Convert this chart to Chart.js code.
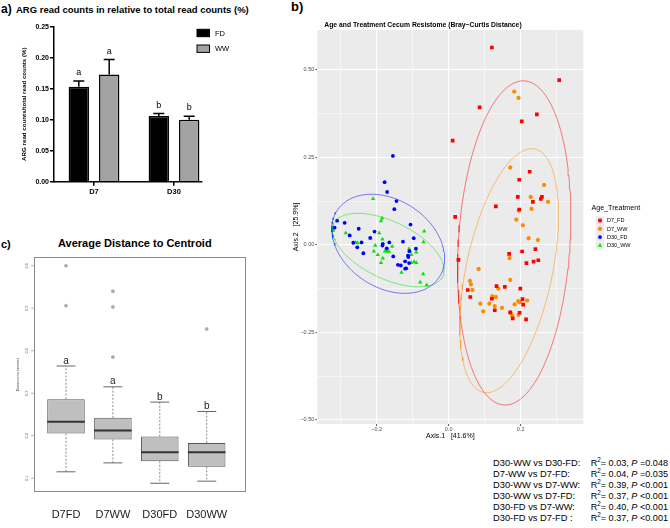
<!DOCTYPE html>
<html><head><meta charset="utf-8">
<script src="https://cdn.jsdelivr.net/npm/chart.js@4.4.1/dist/chart.umd.min.js"></script>
<style>
html,body{margin:0;padding:0;background:#fff;width:670px;height:528px;overflow:hidden;font-family:'Liberation Sans',Arial,Helvetica,sans-serif;}
.pane{position:absolute;}
.t{position:absolute;white-space:nowrap;color:#000;line-height:1;}
canvas{display:block;}
</style></head><body>
<div class="t" style="left:1px;top:3px;font-weight:bold;font-size:12px;">a)</div>
<div class="t" style="left:16px;top:5px;font-weight:bold;font-size:9.5px;">ARG read counts in relative to total read counts (%)</div>
<div class="t" style="left:291px;top:0px;font-weight:bold;font-size:13px;">b)</div>
<div class="t" style="left:1px;top:239px;font-weight:bold;font-size:11px;">c)</div>
<div class="t" style="left:58px;top:238px;font-weight:bold;font-size:11px;">Average Distance to Centroid</div>
<div class="pane" style="left:0;top:0;width:262px;height:205px;"><canvas id="ca" width="262" height="205"></canvas></div>
<div class="pane" style="left:265px;top:0;width:405px;height:441px;"><canvas id="cb" width="405" height="441"></canvas></div>
<div class="pane" style="left:0;top:230px;width:262px;height:298px;"><canvas id="cc" width="262" height="298"></canvas></div>
<div id="stats"></div>
<script>
// ---------- Panel a data ----------
const groupsA = ['D7', 'D30'];
const meanFD = [0.153, 0.106];
const meanWW = [0.173, 0.100];
const errFD = [0.0095, 0.004];
const errWW = [0.024, 0.0055];
const lettersFD = ['a', 'b'];
const lettersWW = ['a', 'b'];
const yTicksA = [0, 0.05, 0.10, 0.15, 0.20, 0.25];

// ---------- Panel b data (PCoA, Bray-Curtis) ----------
const axis1Label = 'Axis.1   [41.6%]';
const axis2Label = 'Axis.2   [25.9%]';
const groupsB = ['D7_FD', 'D7_WW', 'D30_FD', 'D30_WW'];
const d7fdX = [0.120,0.307,0.086,0.245,0.203,0.011,0.225,0.196,0.192,0.234,0.256,0.259,0.131,0.196,0.018,0.027,0.168,0.204,0.241,0.249,0.236,0.216,0.133,0.156,0.199,0.053,0.060,0.120,0.205,0.207,0.128,0.171,0.197,0.178,0.215];
const d7fdY = [0.564,0.471,0.393,0.373,0.353,0.298,0.209,0.186,0.137,0.123,0.131,0.137,0.110,0.101,0.080,-0.043,-0.026,-0.019,-0.012,-0.044,-0.048,-0.052,-0.118,-0.120,-0.125,-0.129,-0.149,-0.154,-0.155,-0.171,-0.187,-0.193,-0.194,-0.210,-0.213];
const d7wwX = [0.182,0.194,0.171,0.265,0.228,0.276,0.230,0.195,0.188,0.206,0.222,0.248,0.169,0.083,0.171,0.059,0.062,0.066,0.138,0.121,0.131,0.128,0.088,0.113,0.148,0.096,0.183,0.193,0.198,0.218,0.172,0.176,0.194];
const d7wwY = [0.438,0.420,0.221,0.171,0.137,0.123,0.103,0.098,0.072,0.056,0.019,0.014,-0.038,-0.069,-0.100,-0.103,-0.113,-0.129,-0.125,-0.147,-0.149,-0.175,-0.168,-0.168,-0.180,-0.190,-0.170,-0.161,-0.164,-0.159,-0.194,-0.202,-0.200];
const d30fdX = [-0.155,-0.178,-0.171,-0.145,-0.151,-0.106,-0.097,-0.091,-0.310,-0.289,-0.317,-0.275,-0.250,-0.265,-0.254,-0.242,-0.237,-0.206,-0.218,-0.183,-0.184,-0.172,-0.165,-0.154,-0.127,-0.141,-0.133,-0.121,-0.113,-0.112,-0.109,-0.118,-0.121,-0.110];
const d30fdY = [0.254,0.179,0.151,0.125,0.102,0.058,0.019,-0.011,0.069,0.063,0.049,0.027,0.046,0.006,-0.007,0.007,-0.024,0.038,0.020,0.003,-0.002,-0.010,0.007,-0.033,0.009,-0.057,-0.059,-0.047,-0.031,-0.035,-0.018,-0.067,-0.068,-0.052];
const d30wwX = [-0.210,-0.185,-0.188,-0.321,-0.286,-0.193,-0.217,-0.184,-0.258,-0.253,-0.068,-0.070,-0.110,-0.157,-0.204,-0.208,-0.197,-0.183,-0.177,-0.171,-0.166,-0.188,-0.104,-0.090,-0.090,-0.096,-0.104,-0.131,-0.071,-0.079,-0.061];
const d30wwY = [0.132,0.076,0.068,0.041,0.034,0.034,0.018,0.016,0.007,0.005,0.039,0.008,-0.011,-0.005,-0.002,-0.018,-0.028,-0.038,-0.018,-0.018,-0.019,-0.051,-0.028,-0.021,-0.051,-0.048,-0.051,-0.079,-0.083,-0.107,-0.115];
// 95% ellipses: centre x, centre y, semi-major, semi-minor, angle (deg)
const ellD7FD = [0.182, 0.0055, 0.464, 0.155, 86.5];
const ellD7WW = [0.168, -0.074, 0.355, 0.120, 78.5];
const ellD30FD = [-0.168, 0.003, 0.171, 0.124, -35.5];
const ellD30WW = [-0.168, -0.015, 0.169, 0.081, -26.8];
const xTicksB = [-0.3, -0.2, -0.1, 0, 0.1, 0.2, 0.3];
const yTicksB = [-0.5, -0.375, -0.25, -0.125, 0, 0.125, 0.25, 0.375, 0.5];

// ---------- Panel c data (box plots) ----------
const groupsC = ['D7FD', 'D7WW', 'D30FD', 'D30WW'];
const whiskLow = [0.115, 0.136, 0.088, 0.093];
const q1 = [0.205, 0.191, 0.140, 0.127];
const medians = [0.233, 0.212, 0.161, 0.161];
const q3 = [0.286, 0.242, 0.198, 0.183];
const whiskHigh = [0.364, 0.315, 0.279, 0.257];
const outD7FD = [0.600, 0.506];
const outD7WW = [0.540, 0.503, 0.385];
const outD30FD = [];
const outD30WW = [0.451];
const lettersC = ['a', 'a', 'b', 'b'];
const yTicksC = [0.1, 0.2, 0.3, 0.4, 0.5, 0.6];

// ---------- stats text ----------
const statLabels = ['D30-WW vs D30-FD:', 'D7-WW vs D7-FD:', 'D30-WW vs D7-WW:', 'D30-WW vs D7-FD:', 'D30-FD vs D7-WW:', 'D30-FD vs D7-FD :'];
const statR2 = ['0.03', '0.04', '0.39', '0.37', '0.40', '0.37'];
const statP = ['=0.048', '=0.035', '<0.001', '<0.001', '<0.001', '<0.001'];

const FONT = "'Liberation Sans', Arial, Helvetica, sans-serif";
Chart.defaults.font.family = FONT;
Chart.defaults.animation = false;

// ================= Panel a =================
const panelA = {
  id: 'panelA',
  afterDatasetsDraw(chart) {
    const ctx = chart.ctx, y = chart.scales.y;
    let lastRight = chart.chartArea.left;
    chart.data.datasets.forEach((ds, i) => {
      const meta = chart.getDatasetMeta(i);
      meta.data.forEach((bar, j) => {
        lastRight = Math.max(lastRight, bar.x + bar.width / 2);
        const base = y.getPixelForValue(ds.data[j]);
        const top = y.getPixelForValue(ds.data[j] + ds.err[j]);
        ctx.save();
        ctx.strokeStyle = '#000'; ctx.lineWidth = 1.5;
        ctx.beginPath();
        ctx.moveTo(bar.x, base); ctx.lineTo(bar.x, top);
        ctx.moveTo(bar.x - 5.5, top); ctx.lineTo(bar.x + 5.5, top);
        ctx.stroke();
        ctx.fillStyle = '#000'; ctx.font = '9px ' + FONT;
        ctx.textAlign = 'center'; ctx.textBaseline = 'alphabetic';
        ctx.fillText(ds.letters[j], bar.x, top - 6);
        ctx.restore();
      });
    });
    // x axis line (ends just after the last bar)
    const a = chart.chartArea;
    ctx.save(); ctx.strokeStyle = '#000'; ctx.lineWidth = 1.5;
    ctx.beginPath(); ctx.moveTo(a.left - 0.75, a.bottom); ctx.lineTo(lastRight + 3, a.bottom); ctx.stroke();
    ctx.restore();
  },
  afterDraw(chart) {
    const ctx = chart.ctx;
    chart.data.datasets.forEach((ds, i) => {
      const cy = 33 + i * 15.7;
      ctx.save();
      ctx.fillStyle = ds.backgroundColor; ctx.strokeStyle = '#000'; ctx.lineWidth = 1;
      ctx.fillRect(197, cy - 3.7, 12.5, 7.4);
      ctx.strokeRect(197, cy - 3.7, 12.5, 7.4);
      ctx.fillStyle = '#000'; ctx.font = '7.5px ' + FONT;
      ctx.textAlign = 'left'; ctx.textBaseline = 'middle';
      ctx.fillText(ds.label, 215, cy + 0.5);
      ctx.restore();
    });
  }
};
new Chart(document.getElementById('ca'), {
  type: 'bar',
  data: {
    labels: groupsA,
    datasets: [
      { label: 'FD', data: meanFD, err: errFD, letters: lettersFD, backgroundColor: '#000000', borderColor: '#000', borderWidth: 1.5 },
      { label: 'WW', data: meanWW, err: errWW, letters: lettersWW, backgroundColor: '#A3A3A3', borderColor: '#000', borderWidth: 1.5 }
    ]
  },
  options: {
    responsive: false, devicePixelRatio: 1,
    categoryPercentage: 0.76, barPercentage: 0.67,
    layout: { padding: { top: 26.7, right: 48, left: 0, bottom: 0 } },
    plugins: { legend: { display: false }, tooltip: { enabled: false } },
    scales: {
      x: {
        grid: { display: true, drawOnChartArea: false, offset: false, tickLength: 4, color: '#000', lineWidth: 1.5 },
        border: { display: false },
        ticks: { color: '#000', font: { size: 7.5, weight: 'bold' }, padding: 1.5 },
        afterFit: s => { s.height = 205 - 181.7; }
      },
      y: {
        min: 0, max: 0.25,
        afterBuildTicks: s => { s.ticks = yTicksA.map(v => ({ value: v })); },
        ticks: { color: '#000', font: { size: 7, weight: 'bold' }, padding: 1, callback: v => v.toFixed(2) },
        grid: { display: true, drawOnChartArea: false, tickLength: 4, color: '#000', lineWidth: 1.5 },
        border: { color: '#000', width: 1.5 },
        title: { display: true, text: 'ARG read counts/total read counts (%)', color: '#000', font: { size: 6.2, weight: 'bold' }, padding: { top: 21, bottom: 0 } },
        afterFit: s => { s.width = 54; }
      }
    }
  },
  plugins: [panelA]
});

// ================= Panel b =================
function zip(xs, ys) { return xs.map((x, i) => ({ x: x, y: ys[i] })); }
function ellipse(p) {
  const [cx, cy, a, b, deg] = p, t = deg * Math.PI / 180, pts = [];
  for (let k = 0; k <= 140; k++) {
    const g = 2 * Math.PI * k / 140;
    pts.push({ x: cx + a * Math.cos(g) * Math.cos(t) - b * Math.sin(g) * Math.sin(t),
               y: cy + a * Math.cos(g) * Math.sin(t) + b * Math.sin(g) * Math.cos(t) });
  }
  return pts;
}
const colB = ['#FF0000', '#FF8C00', '#0000FF', '#00E600'];
const ellCol = ['rgba(255,0,0,0.5)', 'rgba(255,140,0,0.5)', 'rgba(0,0,255,0.5)', 'rgba(0,230,0,0.5)'];
const styleB = [
  { pointStyle: 'rect', radius: 2.6, borderWidth: 0 },
  { pointStyle: 'star', radius: 2.1, borderWidth: 1.3 },
  { pointStyle: 'circle', radius: 1.9, borderWidth: 0 },
  { pointStyle: 'triangle', radius: 2.5, borderWidth: 0 }
];
const ptsB = [zip(d7fdX, d7fdY), zip(d7wwX, d7wwY), zip(d30fdX, d30fdY), zip(d30wwX, d30wwY)];
const ellB = [ellD7FD, ellD7WW, ellD30FD, ellD30WW];
const dsB = [];
groupsB.forEach((g, i) => {
  dsB.push({ label: g, data: ptsB[i], pointStyle: styleB[i].pointStyle, pointRadius: styleB[i].radius,
    pointBorderWidth: styleB[i].borderWidth, backgroundColor: colB[i], borderColor: colB[i], order: 1 });
});
groupsB.forEach((g, i) => {
  dsB.push({ label: g + ' ellipse', data: ellipse(ellB[i]), showLine: true, pointRadius: 0, borderColor: ellCol[i],
    borderWidth: 1, fill: false, tension: 0, order: 0 });
});
const isMajorX = v => Math.abs(Math.round(v * 10)) % 2 === 0;
const isMajorY = v => Math.abs(Math.round(v * 8)) % 2 === 0;
const panelB = {
  id: 'panelB',
  beforeDraw(chart) {
    const { ctx, chartArea: a } = chart;
    ctx.save(); ctx.fillStyle = '#EBEBEB';
    ctx.fillRect(a.left, a.top, a.right - a.left, a.bottom - a.top);
    ctx.restore();
  },
  afterDraw(chart) {
    const ctx = chart.ctx;
    ctx.save();
    ctx.fillStyle = '#000';
    ctx.font = 'bold 6.8px ' + FONT; ctx.textAlign = 'left'; ctx.textBaseline = 'alphabetic';
    ctx.fillText('Age and Treatment Cecum Resistome (Bray\u2212Curtis Distance)', 59.3, 26.5);
    ctx.font = '7.1px ' + FONT; ctx.textBaseline = 'middle';
    ctx.fillText('Age_Treatment', 326.5, 208.5);
    groupsB.forEach((g, i) => {
      const cy = 220.5 + i * 8.3, cx = 335;
      ctx.fillStyle = '#EBEBEB';
      ctx.fillRect(cx - 4.2, cy - 4.1, 8.4, 8.2);
      ctx.fillStyle = colB[i]; ctx.strokeStyle = colB[i]; ctx.lineWidth = styleB[i].borderWidth;
      Chart.helpers.drawPoint(ctx, { pointStyle: styleB[i].pointStyle, radius: styleB[i].radius, borderWidth: styleB[i].borderWidth, rotation: 0 }, cx, cy);
      ctx.fillStyle = '#000'; ctx.font = '5.5px ' + FONT; ctx.textAlign = 'left';
      ctx.fillText(g, 342, cy + 0.3);
    });
    ctx.restore();
  }
};
new Chart(document.getElementById('cb'), {
  type: 'scatter',
  data: { datasets: dsB },
  options: {
    responsive: false, devicePixelRatio: 1,
    layout: { padding: { top: 30, right: 86.7, left: 0, bottom: 0 } },
    plugins: { legend: { display: false }, tooltip: { enabled: false } },
    scales: {
      x: {
        type: 'linear', min: -0.365, max: 0.374,
        afterBuildTicks: s => { s.ticks = xTicksB.map(v => ({ value: v })); },
        ticks: { color: '#4D4D4D', font: { size: 5.5 }, padding: 0, maxRotation: 0, autoSkip: false,
          callback: v => isMajorX(v) ? v.toFixed(1).replace('-', '\u2212') : '' },
        grid: { color: '#FFFFFF', lineWidth: c => isMajorX(c.tick.value) ? 1.1 : 0.5, tickLength: 2,
          tickColor: c => isMajorX(c.tick.value) ? '#333333' : 'rgba(0,0,0,0)', tickWidth: 0.8 },
        border: { display: false },
        title: { display: true, text: axis1Label, color: '#000', font: { size: 7 }, padding: { top: 0, bottom: 0.3 } },
        afterFit: s => { s.height = 17; }
      },
      y: {
        type: 'linear', min: -0.512, max: 0.614,
        afterBuildTicks: s => { s.ticks = yTicksB.map(v => ({ value: v })); },
        ticks: { color: '#4D4D4D', font: { size: 5.5 }, padding: 1, autoSkip: false,
          callback: v => isMajorY(v) ? v.toFixed(2).replace('-', '\u2212') : '' },
        grid: { color: '#FFFFFF', lineWidth: c => isMajorY(c.tick.value) ? 1.1 : 0.5, tickLength: 2,
          tickColor: c => isMajorY(c.tick.value) ? '#333333' : 'rgba(0,0,0,0)', tickWidth: 0.8 },
        border: { display: false },
        title: { display: true, text: axis2Label, color: '#000', font: { size: 7 }, padding: { top: 27.3, bottom: 0 } },
        afterFit: s => { s.width = 52.3; }
      }
    }
  },
  plugins: [panelB]
});

// ================= Panel c =================
const outliersC = [];
[outD7FD, outD7WW, outD30FD, outD30WW].forEach((arr, i) => arr.forEach(v => outliersC.push({ x: i + 1, y: v })));
const panelC = {
  id: 'panelC',
  afterDatasetsDraw(chart) {
    const ctx = chart.ctx, x = chart.scales.x, y = chart.scales.y, a = chart.chartArea;
    ctx.save();
    groupsC.forEach((g, i) => {
      const px = x.getPixelForValue(i + 1);
      const pLo = y.getPixelForValue(whiskLow[i]), pQ1 = y.getPixelForValue(q1[i]);
      const pQ3 = y.getPixelForValue(q3[i]), pHi = y.getPixelForValue(whiskHigh[i]);
      const pMed = y.getPixelForValue(medians[i]);
      ctx.strokeStyle = '#6E6E6E'; ctx.lineWidth = 0.8; ctx.setLineDash([2, 1.6]);
      ctx.beginPath(); ctx.moveTo(px, pQ3); ctx.lineTo(px, pHi); ctx.moveTo(px, pQ1); ctx.lineTo(px, pLo); ctx.stroke();
      ctx.setLineDash([]); ctx.strokeStyle = '#555'; ctx.lineWidth = 0.9;
      ctx.beginPath(); ctx.moveTo(px - 9.5, pHi); ctx.lineTo(px + 9.5, pHi); ctx.moveTo(px - 9.5, pLo); ctx.lineTo(px + 9.5, pLo); ctx.stroke();
      ctx.strokeStyle = '#333'; ctx.lineWidth = 2;
      ctx.beginPath(); ctx.moveTo(px - 18.8, pMed); ctx.lineTo(px + 18.8, pMed); ctx.stroke();
      ctx.fillStyle = '#222'; ctx.font = '10px ' + FONT; ctx.textAlign = 'center'; ctx.textBaseline = 'alphabetic';
      ctx.fillText(lettersC[i], px, pHi - 2.5);
    });
    // plot box
    ctx.strokeStyle = '#8A8A8A'; ctx.lineWidth = 1;
    ctx.strokeRect(a.left + 0.5, a.top + 0.5, a.right - a.left - 1, a.bottom - a.top - 1);
    // y axis ticks and rotated labels
    ctx.strokeStyle = '#999'; ctx.lineWidth = 0.7;
    yTicksC.forEach(v => {
      const py = y.getPixelForValue(v);
      ctx.beginPath(); ctx.moveTo(a.left, py); ctx.lineTo(a.left - 3, py); ctx.stroke();
      ctx.save(); ctx.translate(27, py); ctx.rotate(-Math.PI / 2);
      ctx.fillStyle = '#666'; ctx.font = '4px ' + FONT; ctx.textAlign = 'center'; ctx.textBaseline = 'middle';
      ctx.fillText(v.toFixed(1), 0, 0); ctx.restore();
    });
    ctx.save(); ctx.translate(18, (a.top + a.bottom) / 2); ctx.rotate(-Math.PI / 2);
    ctx.fillStyle = '#444'; ctx.font = '3.8px ' + FONT; ctx.textAlign = 'center'; ctx.textBaseline = 'middle';
    ctx.fillText('Distance to centroid', 0, 0); ctx.restore();
    ctx.restore();
  }
};
new Chart(document.getElementById('cc'), {
  type: 'bar',
  data: {
    datasets: [
      { type: 'bar', label: 'IQR', data: groupsC.map((g, i) => ({ x: i + 1, y: [q1[i], q3[i]] })),
        backgroundColor: '#BFBFBF', borderColor: '#555', borderWidth: 1, borderSkipped: false,
        barPercentage: 0.8, categoryPercentage: 1.0, order: 1 },
      { type: 'scatter', label: 'outliers', data: outliersC, pointRadius: 1.5, pointBorderWidth: 0.6,
        backgroundColor: '#B0B0B0', borderColor: '#999', order: 0 }
    ]
  },
  options: {
    responsive: false, devicePixelRatio: 1,
    layout: { padding: { top: 27, right: 16, left: 0, bottom: 0 } },
    plugins: { legend: { display: false }, tooltip: { enabled: false } },
    scales: {
      x: {
        type: 'linear', min: 0.318, max: 4.838, offset: false,
        afterBuildTicks: s => { s.ticks = groupsC.map((g, i) => ({ value: i + 1 })); },
        ticks: { color: '#1A1A1A', font: { size: 11 }, padding: 8, autoSkip: false, maxRotation: 0,
          callback: v => groupsC[Math.round(v) - 1] },
        grid: { display: false }, border: { display: false },
        afterFit: s => { s.height = 36; }
      },
      y: {
        type: 'linear', min: 0.0675, max: 0.6205,
        ticks: { display: false }, grid: { display: false }, border: { display: false },
        afterFit: s => { s.width = 34; }
      }
    }
  },
  plugins: [panelC]
});

// ================= stats text =================
const st = document.getElementById('stats');
statLabels.forEach((lab, i) => {
  const top = 458.8 + i * 11;
  const d1 = document.createElement('div');
  d1.className = 't'; d1.style.cssText = 'left:493px;top:' + top + 'px;font-size:9.3px;';
  d1.textContent = lab; st.appendChild(d1);
  const d2 = document.createElement('div');
  d2.className = 't'; d2.style.cssText = 'right:2px;top:' + top + 'px;font-size:9.1px;text-align:right;';
  d2.innerHTML = 'R<span style="font-size:6.3px;position:relative;top:-3.5px;">2</span>= ' + statR2[i] + ', <i>P</i> ' + statP[i];
  st.appendChild(d2);
});
</script>
</body></html>
